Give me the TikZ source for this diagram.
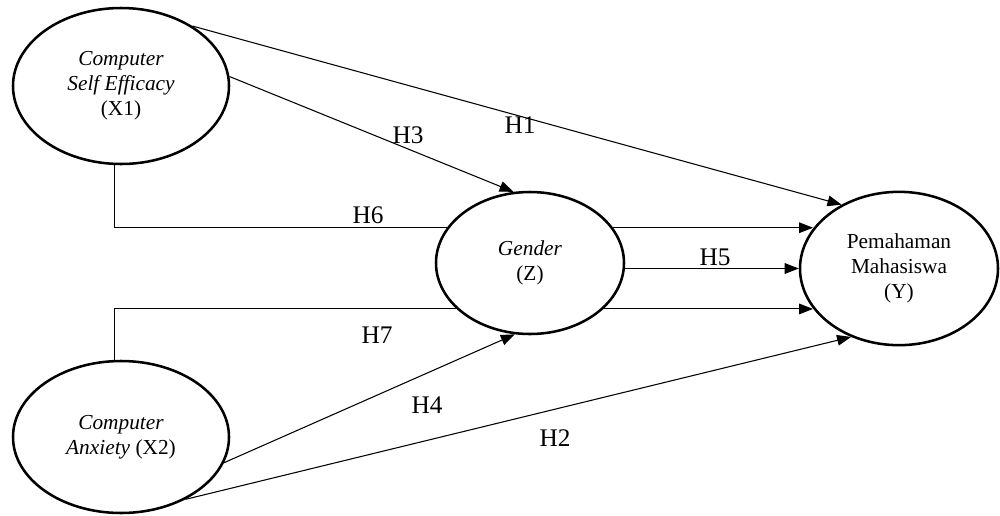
\documentclass[tikz,border=0pt]{standalone}
\usepackage{fontspec}
\setmainfont{Liberation Serif}
\usetikzlibrary{shapes.geometric,arrows.meta}

\begin{document}
\begin{tikzpicture}[
    x=0.75pt, y=-0.75pt,
    var/.style={draw, ellipse, line width=1.9pt, inner sep=0pt, align=center, font=\fontsize{16}{18.75}\selectfont},
    arr/.style={-{Triangle[length=10.5pt,width=8pt]}, line width=0.8pt},
    link/.style={line width=0.8pt},
    hyp/.style={font=\fontsize{19}{22}\selectfont}
]
\useasboundingbox (0,0) rectangle (1000,515);
% constructs
\node[var, minimum width=162pt, minimum height=117pt] (x1) at (121,86) {\textit{Computer}\\ \textit{Self Efficacy}\\ (X1)};
\node[var, minimum width=162pt, minimum height=114pt] (x2) at (121,437) {\textit{Computer}\\ \textit{Anxiety} (X2)};
\node[var, minimum width=141pt, minimum height=106.5pt] (z) at (530,263) {\textit{Gender}\\ (Z)};
\node[var, minimum width=148.5pt, minimum height=115pt] (y) at (899,268.5) {Pemahaman\\ Mahasiswa\\ (Y)};
% direct paths
\draw[arr] (x1.40) -- (y.132);
\draw[arr] (x1.5) -- (z.103);
\draw[arr] (x2.346) -- (z.258);
\draw[arr] (x2.316) -- (y.235);
\draw[arr] (z.east |- y.west) -- (y.west);
% moderation paths
\draw[link] (x1.265) |- (z.157);
\draw[arr] (z.23) -- (z.23 -| y.155);
\draw[link] (x2.95) |- (z.212);
\draw[arr] (z.328) -- (z.328 -| y.205);
% hypotheses
\node[hyp] (h1) at (520,125) {H1};
\node[hyp] (h2) at (555,438) {H2};
\node[hyp] (h3) at (408,135) {H3};
\node[hyp] (h4) at (427,405) {H4};
\node[hyp] (h5) at (715,257) {H5};
\node[hyp] (h6) at (368,215) {H6};
\node[hyp] (h7) at (377,335) {H7};
\end{tikzpicture}
\end{document}
